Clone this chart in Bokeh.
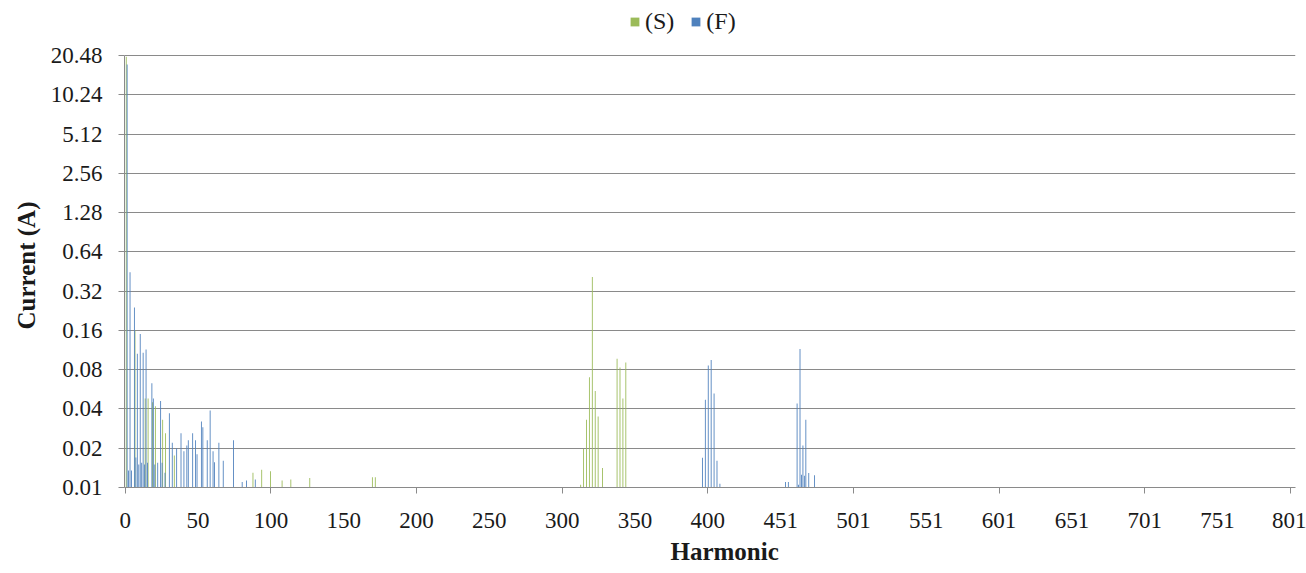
from bokeh.plotting import figure
from bokeh.models import (ColumnDataSource, FixedTicker, PrintfTickFormatter,
                          Legend, LegendItem, Range1d, Title)
from bokeh.transform import dodge
from bokeh.embed import file_html
from bokeh.resources import INLINE

# ---- data (category position on the harmonic axis, current in A) ----
s_pos = [1, 7, 14, 16, 19, 21, 26, 28, 34, 88, 94, 100, 108, 114, 127, 170, 172,
         313, 315, 317, 319, 321, 323, 325, 328, 338, 340, 342, 344]
s_val = [20.0, 0.16, 0.048, 0.048, 0.045, 0.042, 0.033, 0.026, 0.0176, 0.013, 0.0137,
         0.0133, 0.0113, 0.0115, 0.0118, 0.012, 0.012,
         0.0105, 0.0198, 0.033, 0.070, 0.41, 0.055, 0.035, 0.0141, 0.097, 0.083, 0.048, 0.091]

f_pos = [1, 2, 3, 4, 6, 7, 8, 9, 10, 11, 12, 13, 14, 15, 18, 19, 20, 22, 24, 25,
         27, 30, 32, 35, 38, 40, 42, 43, 46, 48, 49, 52, 53, 56, 58, 60, 61, 64, 67, 74,
         80, 83, 89, 396, 398, 400, 402, 404, 406, 408,
         453, 455, 461, 462, 463, 464, 465, 466, 467, 469, 473]
f_val = [17.5, 0.0135, 0.446, 0.0135, 0.24, 0.017, 0.106, 0.015, 0.15, 0.0155,
         0.108, 0.015, 0.114, 0.0155, 0.063, 0.048, 0.015, 0.0155, 0.046, 0.0155,
         0.013, 0.037, 0.022, 0.020, 0.026, 0.019, 0.021, 0.023, 0.026, 0.023,
         0.018, 0.032, 0.029, 0.023, 0.039, 0.019, 0.0156, 0.022, 0.016, 0.023,
         0.011, 0.0113, 0.0115, 0.0169, 0.047, 0.086, 0.095, 0.0526, 0.016, 0.0107,
         0.011, 0.011, 0.044, 0.0105, 0.115, 0.0125, 0.021, 0.0123, 0.033, 0.0129, 0.0124]

y_ticks = [0.01, 0.02, 0.04, 0.08, 0.16, 0.32, 0.64, 1.28, 2.56, 5.12, 10.24, 20.48]
x_tick_pos = [0, 50, 100, 150, 200, 250, 300, 350, 400, 450, 500, 550, 600, 650, 700, 750, 800]
x_tick_labels = ["0", "50", "100", "150", "200", "250", "300", "350", "400",
                 "451", "501", "551", "601", "651", "701", "751", "801"]
x_mark_pos = [0, 100, 200, 300, 400, 500, 600, 700, 800]

series_names = ["(S)", "(F)"]
series_colors = ["#9BBB59", "#4F81BD"]
x_title = "Harmonic"
y_title = "Current (A)"

FONT = "Liberation Serif"
GRID = "#8a8a8a"
TXT = "#1a1a1a"

# layout: the value axis spans 432 px; the frame reaches the top of the canvas
# so the legend can sit above the top gridline
AXIS_PX = 432
TOP_PAD_PX = 55
px_per_doubling = AXIS_PX / (len(y_ticks) - 1)
y_top = y_ticks[-1] * 2 ** (TOP_PAD_PX / px_per_doubling)

s_src = ColumnDataSource(dict(x=s_pos, top=s_val, bottom=[y_ticks[0]] * len(s_val)))
f_src = ColumnDataSource(dict(x=f_pos, top=f_val, bottom=[y_ticks[0]] * len(f_val)))

p = figure(width=1306, height=573, output_backend="svg", toolbar_location=None,
           y_axis_type="log",
           x_range=Range1d(-0.5, 803.5), y_range=Range1d(y_ticks[0], y_top),
           min_border_left=124, min_border_right=11, min_border_top=0, min_border_bottom=86)
p.outline_line_color = None
p.background_fill_color = "white"

rs = p.vbar(x=dodge("x", -0.3, range=p.x_range), top="top", bottom="bottom", width=0.6,
            source=s_src, fill_color=series_colors[0], line_color=None)
rf = p.vbar(x=dodge("x", 0.3, range=p.x_range), top="top", bottom="bottom", width=0.6,
            source=f_src, fill_color=series_colors[1], line_color=None)

# grid
p.xgrid.visible = False
p.ygrid.ticker = FixedTicker(ticks=y_ticks)
p.ygrid.grid_line_color = GRID
p.ygrid.grid_line_width = 1

# y axis
ya = p.yaxis[0]
ya.ticker = FixedTicker(ticks=y_ticks, minor_ticks=[])
ya.bounds = (y_ticks[0], y_ticks[-1])
ya.formatter = PrintfTickFormatter(format="%.2f")
ya.axis_line_color = GRID
ya.major_tick_line_color = GRID
ya.major_tick_out = 6
ya.major_tick_in = 0
ya.minor_tick_out = 0
ya.minor_tick_in = 0
ya.major_label_text_font = FONT
ya.major_label_text_font_size = "23px"
ya.major_label_text_color = TXT
ya.major_label_standoff = 16

# x axis
xa = p.xaxis[0]
xa.ticker = FixedTicker(ticks=x_tick_pos, minor_ticks=x_mark_pos)
xa.major_label_overrides = dict(zip(x_tick_pos, x_tick_labels))
xa.axis_line_color = GRID
xa.major_tick_out = 0
xa.major_tick_in = 0
xa.minor_tick_line_color = GRID
xa.minor_tick_out = 6
xa.minor_tick_in = 0
xa.major_label_text_font = FONT
xa.major_label_text_font_size = "23px"
xa.major_label_text_color = TXT
xa.major_label_standoff = 19

# axis titles as side-panel titles (allows offsetting them like the reference)
yt = Title(text=y_title, align="left", offset=158, vertical_align="middle",
           standoff=14, text_font=FONT, text_font_style="bold",
           text_font_size="25px", text_color=TXT)
p.add_layout(yt, "left")
xt = Title(text=x_title, align="left", offset=546, vertical_align="middle",
           standoff=12, text_font=FONT, text_font_style="bold",
           text_font_size="25px", text_color=TXT)
p.add_layout(xt, "below")

legend = Legend(items=[LegendItem(label=series_names[0], renderers=[rs]),
                       LegendItem(label=series_names[1], renderers=[rf])],
                location=(505, 452), orientation="horizontal",
                label_text_font=FONT, label_text_font_size="24px",
                label_text_color=TXT,
                glyph_width=11, glyph_height=11, label_standoff=5, spacing=16,
                padding=0, margin=0, border_line_color=None,
                background_fill_alpha=0)
p.add_layout(legend, "center")

open("out.html", "w").write(file_html(p, INLINE))
